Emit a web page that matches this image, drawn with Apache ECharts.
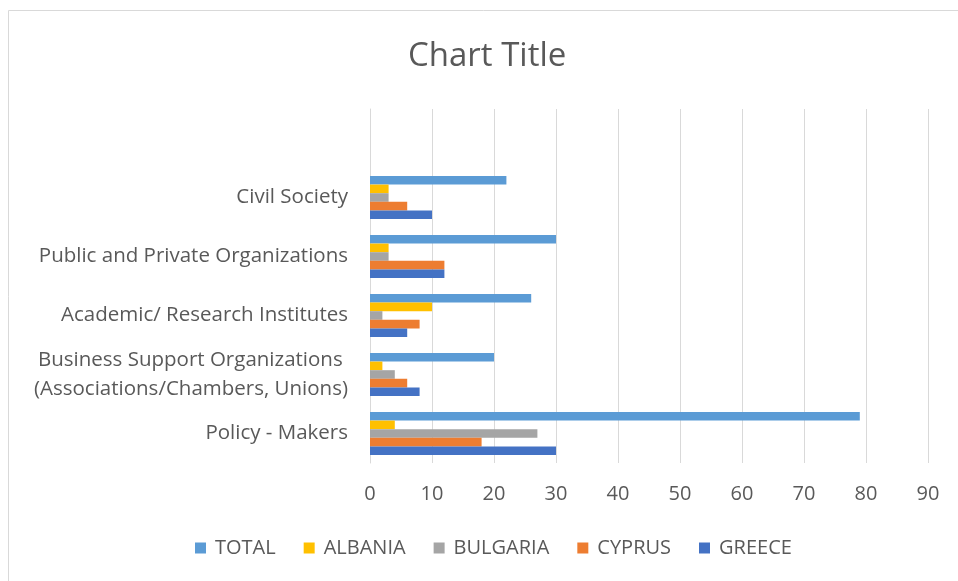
<!DOCTYPE html>
<html>
<head>
<meta charset="utf-8">
<script src="https://cdn.jsdelivr.net/npm/echarts@6/dist/echarts.min.js"></script>
<style>
  html, body { margin: 0; padding: 0; background: #fff; }
  #chart { width: 958px; height: 581px; }
</style>
</head>
<body>
<div id="chart"></div>
<script>
// categories bottom -> top (last one is the empty row Excel leaves on top)
const categories = [
    'Policy - Makers',
    'Business Support Organizations \n(Associations/Chambers, Unions)',
    'Academic/ Research Institutes',
    'Public and Private Organizations',
    'Civil Society',
    ''
];
const seriesNames = ['TOTAL', 'ALBANIA', 'BULGARIA', 'CYPRUS', 'GREECE'];
const colors = ['#5B9BD5', '#FFC000', '#A5A5A5', '#ED7D31', '#4472C4'];

const total    = [79, 20, 26, 30, 22, null];
const albania  = [4, 2, 10, 3, 3, null];
const bulgaria = [27, 4, 2, 3, 3, null];
const cyprus   = [18, 6, 8, 12, 6, null];
const greece   = [30, 8, 6, 12, 10, null];

const values = [total, albania, bulgaria, cyprus, greece];

const font = '"Open Sans", "Noto Sans", sans-serif';
const textColor = '#595959';

const chart = echarts.init(document.getElementById('chart'));
const option = {
    animation: false,
    color: colors,
    title: {
        text: 'Chart Title',
        left: 403,
        top: 35,
        textStyle: { fontFamily: font, fontSize: 33, fontWeight: 'normal', color: textColor }
    },
    graphic: [{
        type: 'rect',
        shape: { x: 8.5, y: 10.5, width: 1000, height: 1000 },
        style: { fill: 'none', stroke: '#d9d9d9', lineWidth: 1 },
        silent: true
    }],
    legend: {
        data: seriesNames,
        bottom: 18,
        left: 190,
        itemWidth: 11,
        itemHeight: 11,
        itemGap: 28,
        icon: 'rect',
        textStyle: { fontFamily: font, fontSize: 20, color: textColor, padding: [0, 0, 0, 4] }
    },
    grid: {
        left: 370,
        right: 30,
        top: 109,
        bottom: 118,
        containLabel: false
    },
    xAxis: {
        type: 'value',
        min: 0,
        max: 90,
        interval: 10,
        axisLine: { show: false },
        axisTick: { show: false },
        axisLabel: { fontFamily: font, fontSize: 20, color: textColor, margin: 21 },
        splitLine: { lineStyle: { color: '#d9d9d9', width: 1 } }
    },
    yAxis: {
        type: 'category',
        data: categories,
        axisLine: { show: true, lineStyle: { color: '#d9d9d9' } },
        axisTick: { show: false },
        axisLabel: { fontFamily: font, fontSize: 20.5, color: textColor, margin: 22, lineHeight: 29 }
    },
    series: seriesNames.map(function (name, i) {
        return {
            name: name,
            type: 'bar',
            data: values[i],
            barGap: '0%',
            barCategoryGap: '27%'
        };
    })
};
chart.setOption(option);
</script>
</body>
</html>
